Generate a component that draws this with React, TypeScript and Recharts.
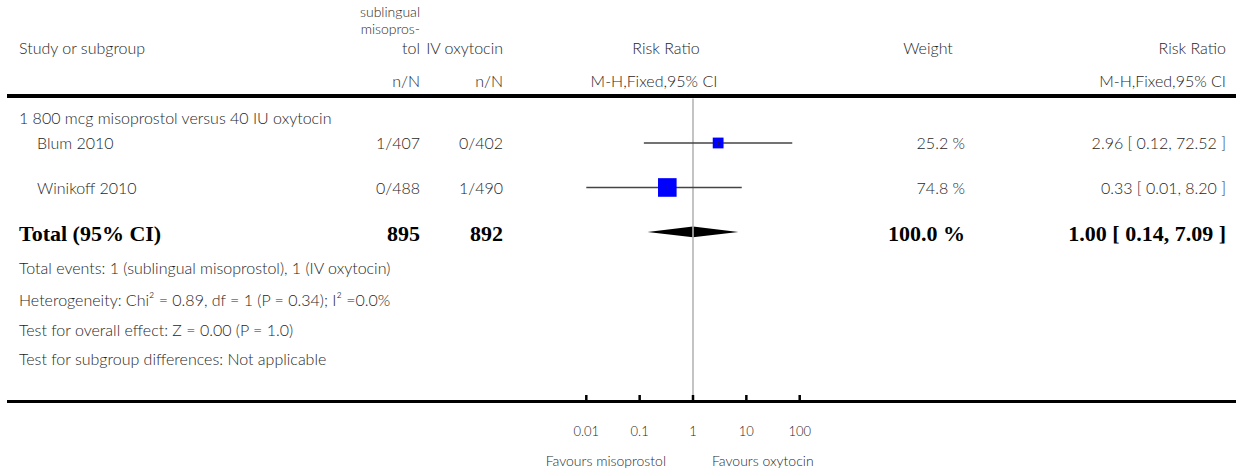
import React from "react";
import {
  ComposedChart,
  XAxis,
  YAxis,
  Scatter,
  ReferenceLine,
  ReferenceArea,
} from "recharts";

// study rows
const studies = ["Blum 2010", "Winikoff 2010"];
const misoEvents = [1, 0];
const misoTotal = [407, 488];
const oxyEvents = [0, 1];
const oxyTotal = [402, 490];
const weights = [25.2, 74.8];
const riskRatio = [2.96, 0.33];
const ciLow = [0.12, 0.01];
const ciHigh = [72.52, 8.2];

// pooled result
const totalMiso = 895;
const totalOxy = 892;
const totalWeight = 100.0;
const totalRR = 1.0;
const totalLow = 0.14;
const totalHigh = 7.09;

const axisTicks = [0.01, 0.1, 1, 10, 100];
const subgroupTitle = "1 800 mcg misoprostol versus 40 IU oxytocin";
const footerLines = [
  "Total events: 1 (sublingual misoprostol), 1 (IV oxytocin)",
  "Heterogeneity: Chi\u00b2 = 0.89, df = 1 (P = 0.34); I\u00b2 =0.0%",
  "Test for overall effect: Z = 0.00 (P = 1.0)",
  "Test for subgroup differences: Not applicable",
];
const favours = ["Favours misoprostol", "Favours oxytocin"];

const W = 1236;
const H = 472;
const SANS = "Lato, 'Open Sans', sans-serif";
const SERIF = "'Liberation Serif', 'DejaVu Serif', serif";
const INK = "#1f1f1f";

const points = studies.map((s, i) => ({
  name: s,
  rr: riskRatio[i],
  row: i + 1,
  weight: weights[i],
}));
const totalRow = studies.length + 1;

const fmt2 = (v: number) => v.toFixed(2);
const ciText = (rr: number, lo: number, hi: number) =>
  `${fmt2(rr)} [ ${fmt2(lo)}, ${fmt2(hi)} ]`;

function Txt({
  x,
  y,
  align = "left",
  bold = false,
  size = 16,
  lh,
  children,
}: any) {
  const lineH = lh ?? Math.round(size * 1.25);
  const base: React.CSSProperties = {
    position: "absolute",
    top: y - lineH / 2,
    lineHeight: lineH + "px",
    whiteSpace: "nowrap",
    fontFamily: bold ? SERIF : SANS,
    fontWeight: bold ? 700 : 300,
    fontSize: size,
    color: bold ? "#000" : INK,
  };
  if (align === "right")
    return <div style={{ ...base, right: W - x, textAlign: "right" }}>{children}</div>;
  if (align === "center")
    return (
      <div style={{ ...base, left: x - 150, width: 300, textAlign: "center" }}>{children}</div>
    );
  return <div style={{ ...base, left: x }}>{children}</div>;
}

const Square = (props: any) => {
  const { cx, cy, payload } = props;
  const s = 2.15 * Math.sqrt(payload.weight);
  return (
    <g>
      <rect x={cx - s / 2} y={cy - s / 2} width={s} height={s} fill="#0000ff" />
      <line x1={cx} x2={cx} y1={cy - 2} y2={cy + 2} stroke="#222" strokeWidth={1} />
    </g>
  );
};

const AxisTick = (props: any) => {
  const { x, y, payload } = props;
  return (
    <g>
      <line x1={x} x2={x} y1={y - 6} y2={y} stroke="#000" strokeWidth={2.5} />
      <text
        x={x}
        y={y + 35}
        textAnchor="middle"
        fontFamily={SANS}
        fontWeight={300}
        fontSize={13}
        fill={INK}
      >
        {String(payload.value)}
      </text>
    </g>
  );
};

const leftHalf = (p: any) => (
  <polygon
    points={`${p.x},${p.y + p.height / 2} ${p.x + p.width},${p.y} ${p.x + p.width},${p.y + p.height}`}
    fill="#000"
  />
);
const rightHalf = (p: any) => (
  <polygon
    points={`${p.x},${p.y} ${p.x + p.width},${p.y + p.height / 2} ${p.x},${p.y + p.height}`}
    fill="#000"
  />
);

export default function App() {
  const colMiso = 420;
  const colOxy = 503;
  const colWeight = 965;
  const colRR = 1226;
  const headY = 48;
  const subY = 81;
  const rowY = [143, 188];
  const totY = 234;
  const footY = [268, 300, 330, 359];
  const B = 22;

  return (
    <div style={{ position: "absolute", left: 0, top: 0, width: W, height: H, background: "#fff" }}>
      <div style={{ position: "absolute", left: 0, top: 0 }}>
        <ComposedChart
          width={W}
          height={H}
          margin={{ top: 98.5, right: W - 799.7, bottom: 0, left: 586.3 }}
        >
          <XAxis
            type="number"
            dataKey="rr"
            scale="log"
            domain={[0.01, 100]}
            ticks={axisTicks}
            allowDataOverflow
            axisLine={false}
            tickLine={false}
            tickSize={0}
            tickMargin={0}
            height={71}
            interval={0}
            tick={<AxisTick />}
          />
          <YAxis type="number" dataKey="row" domain={[0, 6.8]} reversed hide />
          <ReferenceLine x={1} stroke="#b5b5b5" strokeWidth={1.6} />
          <Scatter data={points} shape={<Square />} isAnimationActive={false} />
          {points.map((p, i) => (
            <ReferenceLine
              key={p.name}
              segment={[
                { x: ciLow[i], y: p.row },
                { x: ciHigh[i], y: p.row },
              ]}
              stroke="#444"
              strokeWidth={1.4}
              ifOverflow="visible"
            />
          ))}
          <ReferenceArea
            x1={totalLow}
            x2={totalRR}
            y1={totalRow - 0.12}
            y2={totalRow + 0.12}
            shape={leftHalf}
            ifOverflow="visible"
          />
          <ReferenceArea
            x1={totalRR}
            x2={totalHigh}
            y1={totalRow - 0.12}
            y2={totalRow + 0.12}
            shape={rightHalf}
            ifOverflow="visible"
          />
        </ComposedChart>
      </div>

      {/* table rules */}
      <div style={{ position: "absolute", left: 7, top: 94, width: W - 7, height: 3.5, background: "#000" }} />
      <div style={{ position: "absolute", left: 7, top: 400, width: W - 7, height: 3, background: "#000" }} />

      {/* header */}
      <Txt x={19} y={headY}>Study or subgroup</Txt>
      <Txt x={colMiso} y={11} align="right" size={14} lh={17}>sublingual</Txt>
      <Txt x={colMiso} y={28} align="right" size={14} lh={17}>misopros-</Txt>
      <Txt x={colMiso} y={headY} align="right" lh={18}>tol</Txt>
      <Txt x={colOxy} y={headY} align="right">IV oxytocin</Txt>
      <Txt x={666} y={headY} align="center">Risk Ratio</Txt>
      <Txt x={928} y={headY} align="center">Weight</Txt>
      <Txt x={colRR} y={headY} align="right">Risk Ratio</Txt>
      <Txt x={colMiso} y={subY} align="right">n/N</Txt>
      <Txt x={colOxy} y={subY} align="right">n/N</Txt>
      <Txt x={654} y={subY} align="center">M-H,Fixed,95% CI</Txt>
      <Txt x={colRR} y={subY} align="right">M-H,Fixed,95% CI</Txt>

      <Txt x={19} y={118}>{subgroupTitle}</Txt>
      {studies.map((s, i) => (
        <React.Fragment key={s}>
          <Txt x={37} y={rowY[i]}>{s}</Txt>
          <Txt x={colMiso} y={rowY[i]} align="right">{`${misoEvents[i]}/${misoTotal[i]}`}</Txt>
          <Txt x={colOxy} y={rowY[i]} align="right">{`${oxyEvents[i]}/${oxyTotal[i]}`}</Txt>
          <Txt x={colWeight} y={rowY[i]} align="right">{`${weights[i].toFixed(1)} %`}</Txt>
          <Txt x={colRR} y={rowY[i]} align="right">{ciText(riskRatio[i], ciLow[i], ciHigh[i])}</Txt>
        </React.Fragment>
      ))}

      <Txt x={19} y={totY} bold size={B}>Total (95% CI)</Txt>
      <Txt x={colMiso} y={totY} bold size={B} align="right">{totalMiso}</Txt>
      <Txt x={colOxy} y={totY} bold size={B} align="right">{totalOxy}</Txt>
      <Txt x={colWeight} y={totY} bold size={B} align="right">{`${totalWeight.toFixed(1)} %`}</Txt>
      <Txt x={colRR} y={totY} bold size={B} align="right">{ciText(totalRR, totalLow, totalHigh)}</Txt>

      {footerLines.map((t, i) => (
        <Txt key={t} x={19} y={footY[i]}>{t}</Txt>
      ))}

      <Txt x={666} y={461} align="right" size={14}>{favours[0]}</Txt>
      <Txt x={712} y={461} size={14}>{favours[1]}</Txt>
    </div>
  );
}
